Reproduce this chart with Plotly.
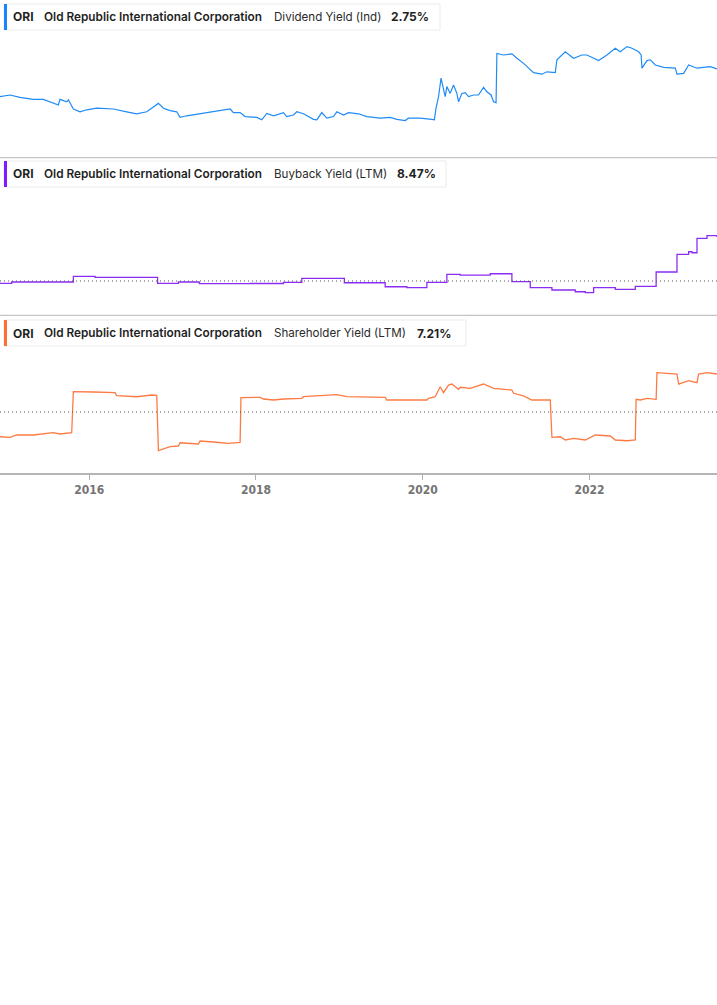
import plotly.graph_objects as go
from plotly.subplots import make_subplots

# ---------------- data (decimal years, % values) ----------------
div_t = [2014.93, 2015.05, 2015.17, 2015.33, 2015.45, 2015.53, 2015.63, 2015.65, 2015.73, 2015.75,
         2015.81, 2015.89, 2015.97, 2016.09, 2016.29, 2016.45, 2016.57, 2016.69, 2016.77, 2016.83,
         2016.89, 2016.97, 2017.05, 2017.09, 2017.17, 2017.33, 2017.49, 2017.69, 2017.73, 2017.81,
         2017.87, 2018.01, 2018.07, 2018.13, 2018.21, 2018.33, 2018.37, 2018.45, 2018.49, 2018.57,
         2018.69, 2018.73, 2018.79, 2018.85, 2018.93, 2018.97, 2019.05, 2019.11, 2019.23, 2019.33,
         2019.49, 2019.61, 2019.69, 2019.79, 2019.83, 2019.97, 2020.11, 2020.14, 2020.16, 2020.19,
         2020.22, 2020.25, 2020.27, 2020.29, 2020.33, 2020.37, 2020.41, 2020.43, 2020.47, 2020.51,
         2020.55, 2020.61, 2020.67, 2020.73, 2020.77, 2020.82, 2020.85, 2020.88, 2020.89, 2020.97,
         2021.07, 2021.13, 2021.21, 2021.33, 2021.43, 2021.49, 2021.59, 2021.61, 2021.71, 2021.81,
         2021.91, 2021.97, 2022.05, 2022.11, 2022.21, 2022.31, 2022.37, 2022.45, 2022.51, 2022.59,
         2022.62, 2022.63, 2022.69, 2022.73, 2022.79, 2022.89, 2023.03, 2023.05, 2023.13, 2023.19,
         2023.29, 2023.45, 2023.53]
div_v = [2.06, 2.10, 2.04, 1.99, 1.99, 1.93, 1.85, 1.99, 1.93, 1.98,
         1.75, 1.68, 1.73, 1.77, 1.75, 1.68, 1.63, 1.68, 1.81, 1.89,
         1.77, 1.71, 1.68, 1.54, 1.58, 1.63, 1.68, 1.75, 1.66, 1.66,
         1.56, 1.54, 1.48, 1.64, 1.58, 1.66, 1.56, 1.60, 1.68, 1.63,
         1.49, 1.48, 1.66, 1.52, 1.56, 1.68, 1.60, 1.66, 1.63, 1.56,
         1.52, 1.54, 1.49, 1.46, 1.52, 1.52, 1.49, 1.48, 1.77, 2.06,
         2.52, 2.23, 2.06, 2.31, 2.14, 2.35, 2.14, 1.93, 2.14, 2.16,
         2.06, 2.10, 2.10, 2.29, 2.18, 2.10, 1.93, 1.91, 3.14, 3.10,
         3.13, 3.02, 2.89, 2.66, 2.62, 2.68, 2.66, 2.98, 3.18, 3.02,
         3.10, 3.10, 3.02, 2.96, 3.10, 3.27, 3.18, 3.31, 3.27, 3.18,
         3.10, 2.77, 2.96, 2.98, 2.85, 2.79, 2.77, 2.62, 2.64, 2.85,
         2.77, 2.81, 2.75]

bb_t = [2014.93, 2015.07, 2015.81, 2016.07, 2016.82, 2017.07, 2017.32, 2017.93, 2018.33, 2018.55,
        2019.06, 2019.55, 2019.81, 2020.05, 2020.29, 2020.45, 2020.81, 2021.07, 2021.29, 2021.55,
        2021.83, 2021.95, 2022.05, 2022.31, 2022.55, 2022.80, 2023.05, 2023.19, 2023.23, 2023.29,
        2023.41, 2023.53]
bb_v = [-0.44, -0.19, 0.90, 0.71, -0.44, -0.19, -0.52, -0.48, -0.25, 0.52,
        -0.33, -1.10, -1.29, -0.25, 1.29, 1.15, 1.40, -0.13, -1.29, -1.73,
        -2.06, -2.25, -1.29, -1.60, -1.02, 1.73, 5.13, 5.63, 5.44, 8.21,
        8.71, 8.47]

sh_t = [2014.93, 2015.05, 2015.13, 2015.33, 2015.57, 2015.65, 2015.79, 2015.81, 2016.05, 2016.31,
        2016.33, 2016.57, 2016.75, 2016.81, 2016.83, 2016.97, 2017.07, 2017.09, 2017.31, 2017.33,
        2017.49, 2017.67, 2017.81, 2017.82, 2018.05, 2018.09, 2018.21, 2018.33, 2018.55, 2018.57,
        2018.77, 2018.97, 2019.09, 2019.25, 2019.55, 2019.57, 2020.05, 2020.07, 2020.15, 2020.21,
        2020.25, 2020.31, 2020.35, 2020.43, 2020.45, 2020.57, 2020.73, 2020.85, 2021.07, 2021.09,
        2021.21, 2021.31, 2021.53, 2021.55, 2021.65, 2021.71, 2021.81, 2021.95, 2022.07, 2022.25,
        2022.31, 2022.45, 2022.55, 2022.56, 2022.61, 2022.69, 2022.80, 2022.81, 2023.05, 2023.07,
        2023.19, 2023.29, 2023.31, 2023.41, 2023.53]
sh_v = [-4.69, -4.80, -4.36, -4.36, -3.93, -4.17, -3.93, 3.85, 3.80, 3.66,
        3.09, 2.90, 3.23, 3.17, -7.34, -6.58, -6.45, -5.83, -6.07, -5.50,
        -5.69, -5.94, -5.75, 2.71, 2.79, 2.47, 2.28, 2.47, 2.60, 2.90,
        3.09, 3.28, 2.90, 2.85, 2.79, 2.28, 2.28, 2.60, 2.90, 4.80,
        3.66, 5.12, 5.31, 4.31, 4.69, 4.50, 5.31, 4.50, 4.17, 3.55,
        3.04, 2.28, 2.28, -4.80, -4.69, -5.31, -4.99, -5.31, -4.36, -4.55,
        -5.31, -5.45, -5.31, 2.41, 2.28, 2.60, 2.41, 7.46, 7.21, 5.31,
        5.94, 5.56, 7.21, 7.46, 7.21]

tick_years = [2016, 2018, 2020, 2022]
tick_labels = ["2016", "2018", "2020", "2022"]

ticker = "ORI"
company = "Old Republic International Corporation"
metrics = ["Dividend Yield (Ind)", "Buyback Yield (LTM)", "Shareholder Yield (LTM)"]
latest = ["2.75%", "8.47%", "7.21%"]
colors = ["#1f8bf7", "#8b2cf5", "#fd7b43"]
bar_colors = ["#1a84ff", "#7f1cff", "#ff6f33"]

# ---------------- figure ----------------
W, H = 717, 1005
PLOT_H = 473
fig = make_subplots(rows=3, cols=1, shared_xaxes=True, vertical_spacing=0)

fig.add_trace(go.Scatter(x=div_t, y=div_v, mode="lines",
                         line=dict(color=colors[0], width=1.2), hoverinfo="skip"), row=1, col=1)
fig.add_trace(go.Scatter(x=bb_t, y=bb_v, mode="lines",
                         line=dict(color=colors[1], width=1.3, shape="hv"), hoverinfo="skip"), row=2, col=1)
fig.add_trace(go.Scatter(x=sh_t, y=sh_v, mode="lines",
                         line=dict(color=colors[2], width=1.3), hoverinfo="skip"), row=3, col=1)

xr = [2014.93, 2023.53]
for r in (1, 2, 3):
    fig.update_xaxes(range=xr, showgrid=False, zeroline=False, row=r, col=1,
                     tickvals=tick_years, ticktext=tick_labels,
                     showticklabels=(r == 3), ticks=("outside" if r == 3 else ""),
                     ticklen=5, tickcolor="#b0b0b0", tickwidth=1,
                     showline=(r == 3), linecolor="#b5b5b5", linewidth=2,
                     tickfont=dict(family="DejaVu Sans Condensed, Liberation Sans Narrow, Roboto",
                                   size=12, color="#747474", weight="bold"))

fig.update_yaxes(visible=False, range=[0.533, 4.475], row=1, col=1)
fig.update_yaxes(visible=False, range=[-6.60, 23.72], row=2, col=1)
fig.update_yaxes(visible=False, range=[-11.57, 18.34], row=3, col=1)

shapes = []
# panel separators
for yp in (2 / 3, 1 / 3):
    shapes.append(dict(type="line", xref="paper", yref="paper", x0=0, x1=1, y0=yp, y1=yp,
                       line=dict(color="#c4c4c4", width=1.2)))
# dotted zero lines
for ya in ("y2", "y3"):
    shapes.append(dict(type="line", xref="paper", yref=ya, x0=0, x1=1, y0=0, y1=0,
                       line=dict(color="#555555", width=1, dash="1px,3px")))

def px(x):
    return x / W

def py(y):
    return 1 - y / PLOT_H

box_tops = [4, 161, 320]
box_rights = [440, 446, 466]
value_x = [391, 397, 417]
annotations = []
for i in range(3):
    t = box_tops[i]
    b = t + 26
    shapes.append(dict(type="rect", xref="paper", yref="paper",
                       x0=px(4), x1=px(box_rights[i]), y0=py(b), y1=py(t),
                       fillcolor="white", line=dict(color="#ebebeb", width=1), layer="above"))
    shapes.append(dict(type="rect", xref="paper", yref="paper",
                       x0=px(4), x1=px(7), y0=py(b), y1=py(t),
                       fillcolor=bar_colors[i], line=dict(width=0), layer="above"))
    cy = py(t + 13)
    pieces = [(11, ticker, "bold", "#1f1f1f", 12),
              (42, company, 600, "#1f1f1f", 11.8),
              (272, metrics[i], "normal", "#2a2a2a", 11.6),
              (value_x[i] - 2, latest[i], "bold", "#1f1f1f", 12)]
    for x0, txt, wt, col, fs in pieces:
        annotations.append(dict(xref="paper", yref="paper", x=px(x0), y=cy,
                                xanchor="left", yanchor="middle", showarrow=False,
                                text=txt, font=dict(family="Inter", size=fs, color=col, weight=wt)))

fig.update_layout(width=W, height=H, margin=dict(l=0, r=0, t=0, b=H - PLOT_H),
                  paper_bgcolor="white", plot_bgcolor="white", showlegend=False,
                  shapes=shapes, annotations=annotations)

fig.write_html("out.html")
